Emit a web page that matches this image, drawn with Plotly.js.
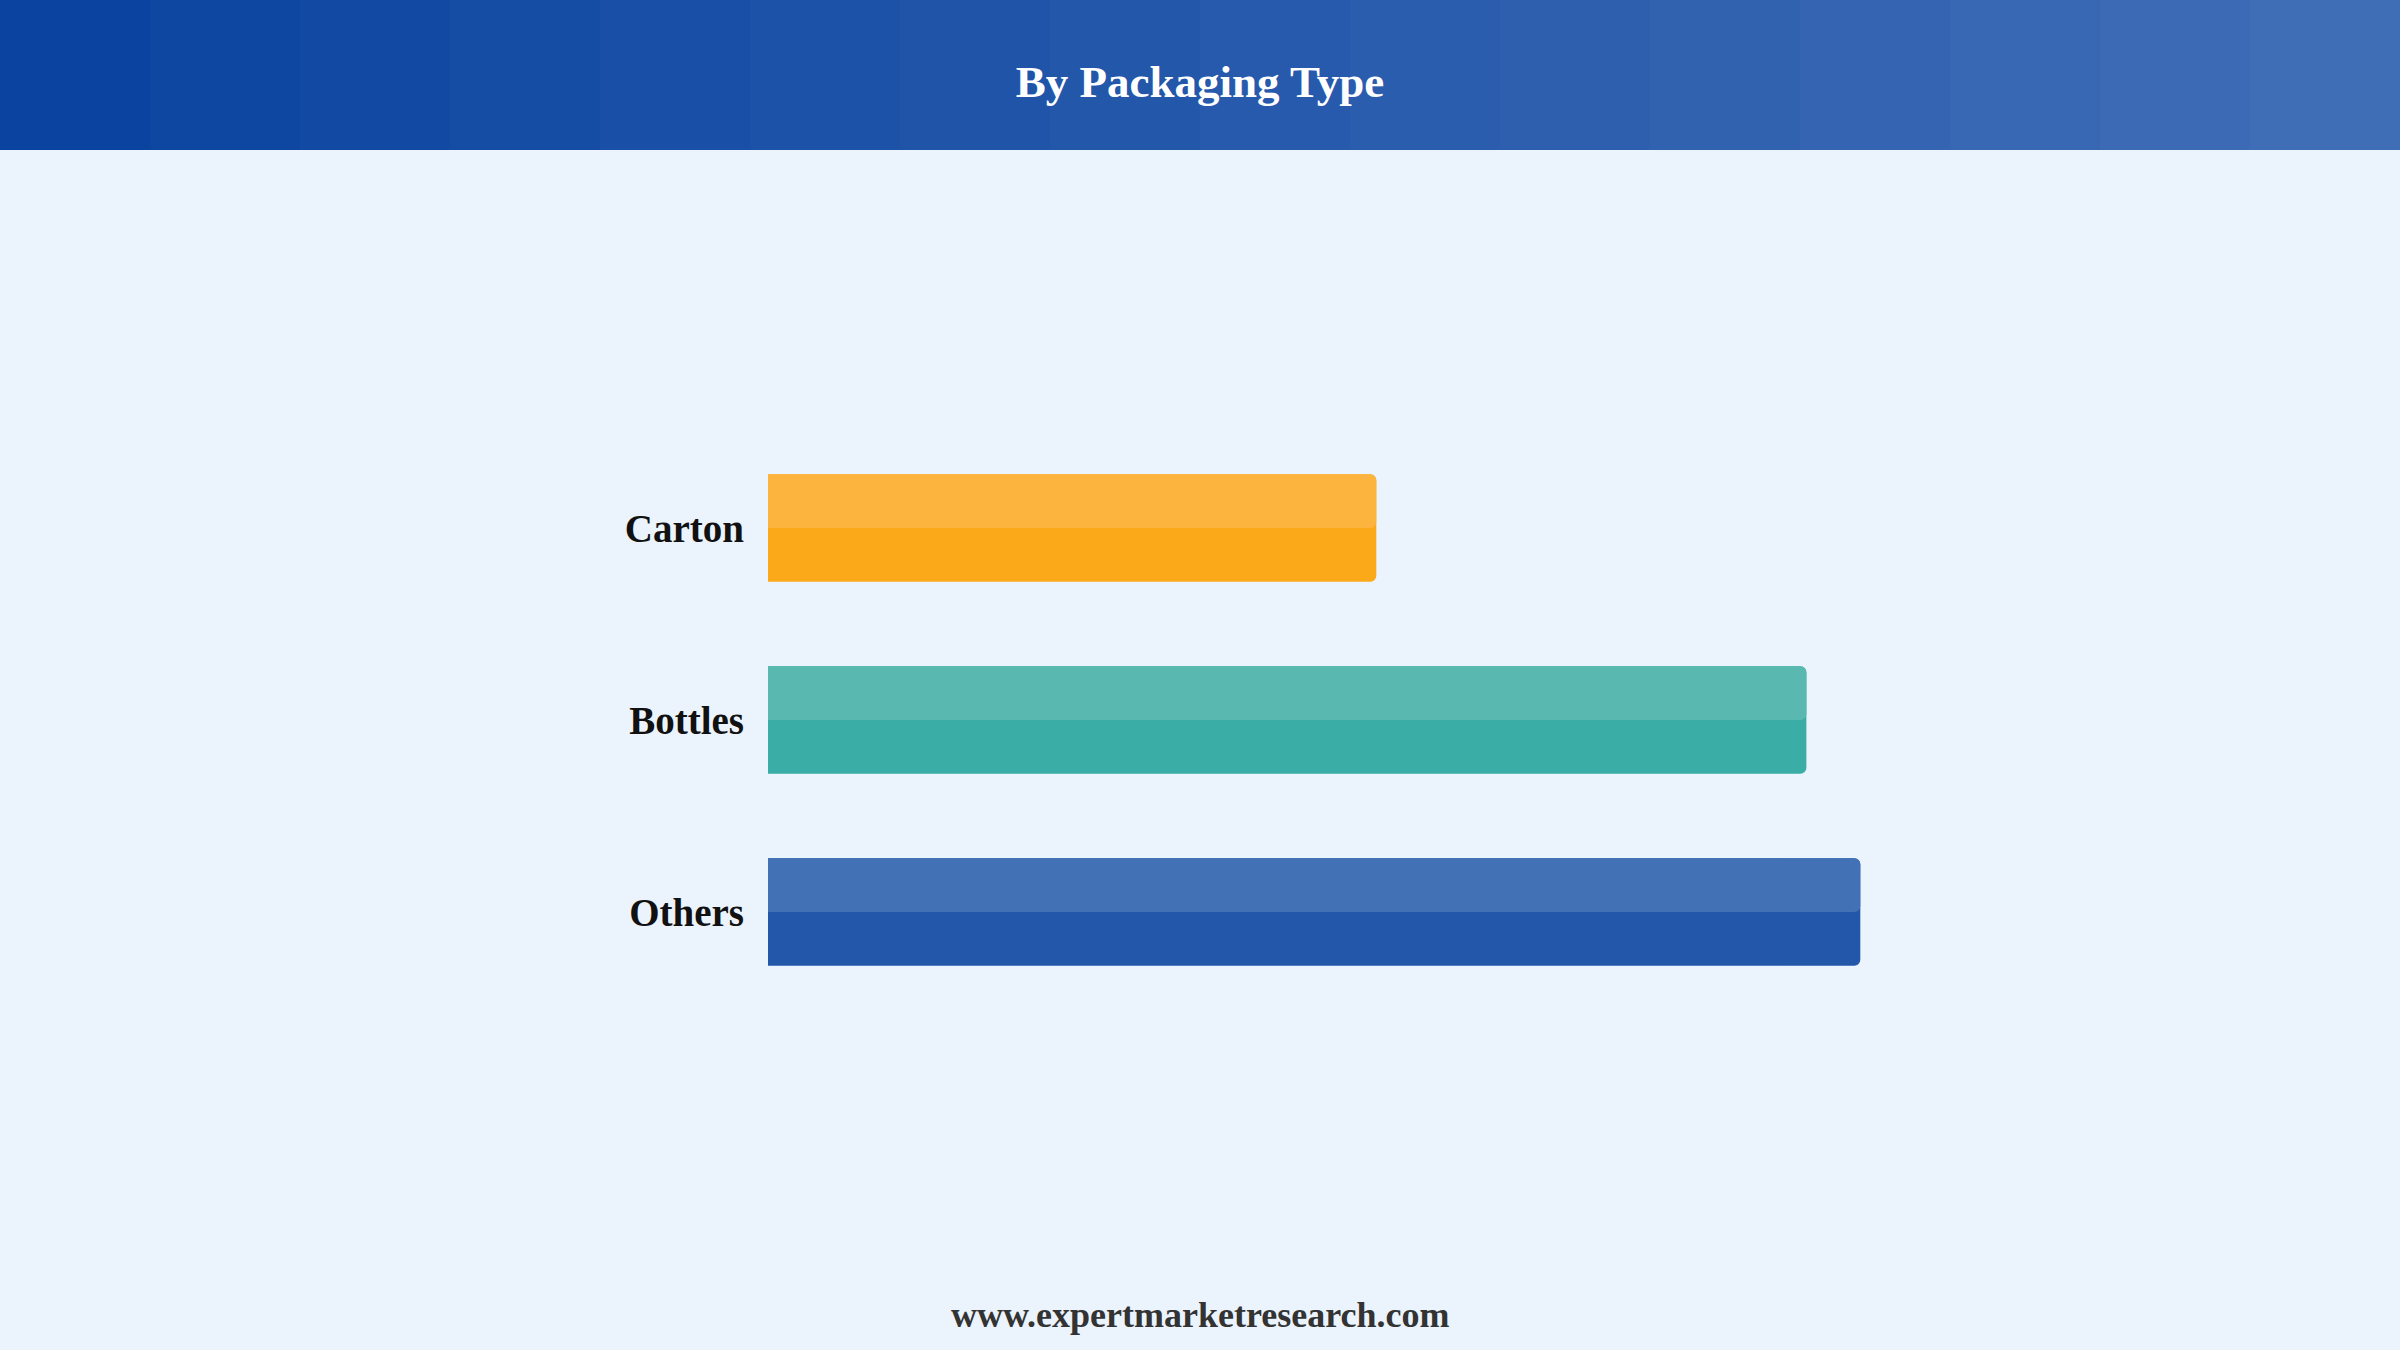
<!DOCTYPE html>
<html>
<head>
<meta charset="utf-8">
<script src="https://cdn.plot.ly/plotly-3.0.1.min.js"></script>
<style>
  body { margin: 0; background: #ebf3fc; }
  #chart { width: 2400px; height: 1350px; }
</style>
</head>
<body>
<div id="chart"></div>
<script>
// packaging types, top to bottom
const categories = ["Carton", "Bottles", "Others"];
const values = [55.3, 94.4, 99.3];
const baseColors = ["#fba919", "#3aaea6", "#2257a9"];
const topColors = ["#fcb43f", "#59b9b1", "#4271b5"];

const serif = "Liberation Serif, Times New Roman, serif";

// dark lower part of each bar
const lower = {
  type: "bar",
  orientation: "h",
  y: categories,
  x: values,
  width: 0.56,
  marker: { color: baseColors, cornerradius: 6, line: { width: 0 } },
  hoverinfo: "skip",
};

// lighter upper half (axis is reversed, so negative offset = up)
const upper = {
  type: "bar",
  orientation: "h",
  y: categories,
  x: values,
  width: 0.28,
  offset: -0.28,
  marker: { color: topColors, cornerradius: 6, line: { width: 0 } },
  hoverinfo: "skip",
};

// header band, stepped gradient
const headerShapes = [];
const steps = 16;
const c0 = [11, 68, 160];
const c1 = [63, 109, 182];
for (let i = 0; i < steps; i++) {
  const t = i / (steps - 1);
  const rgb = c0.map((v, k) => Math.round(v + (c1[k] - v) * t));
  headerShapes.push({
    type: "rect",
    xref: "paper",
    yref: "paper",
    x0: i / steps,
    x1: (i + 1) / steps + 0.001,
    y0: 1 - 150 / 1350,
    y1: 1,
    fillcolor: "rgb(" + rgb.join(",") + ")",
    line: { width: 0 },
    layer: "below",
  });
}

const layout = {
  width: 2400,
  height: 1350,
  margin: { l: 0, r: 0, t: 0, b: 0 },
  paper_bgcolor: "#ebf3fc",
  plot_bgcolor: "rgba(0,0,0,0)",
  barmode: "overlay",
  showlegend: false,
  title: {
    text: "By Packaging Type",
    font: { family: serif, size: 45, color: "#ffffff", weight: 700 },
    x: 0.5,
    xanchor: "center",
    yref: "container",
    y: 1 - 81 / 1350,
    yanchor: "middle",
  },
  xaxis: {
    domain: [768 / 2400, 1868 / 2400],
    range: [0, 100],
    visible: false,
    fixedrange: true,
  },
  yaxis: {
    domain: [1 - 1008 / 1350, 1 - 432 / 1350],
    autorange: "reversed",
    showgrid: false,
    zeroline: false,
    showline: false,
    ticks: "",
    ticklabelstandoff: 23,
    tickfont: { family: serif, size: 39, color: "#111111", weight: 700 },
    fixedrange: true,
  },
  shapes: headerShapes,
  annotations: [
    {
      text: "www.expertmarketresearch.com",
      xref: "paper",
      yref: "paper",
      x: 0.5,
      y: 1 - 1315 / 1350,
      xanchor: "center",
      yanchor: "middle",
      showarrow: false,
      font: { family: serif, size: 36, color: "#333333", weight: 700 },
    },
  ],
};

Plotly.newPlot("chart", [lower, upper], layout, { displayModeBar: false, staticPlot: true });
</script>
</body>
</html>
